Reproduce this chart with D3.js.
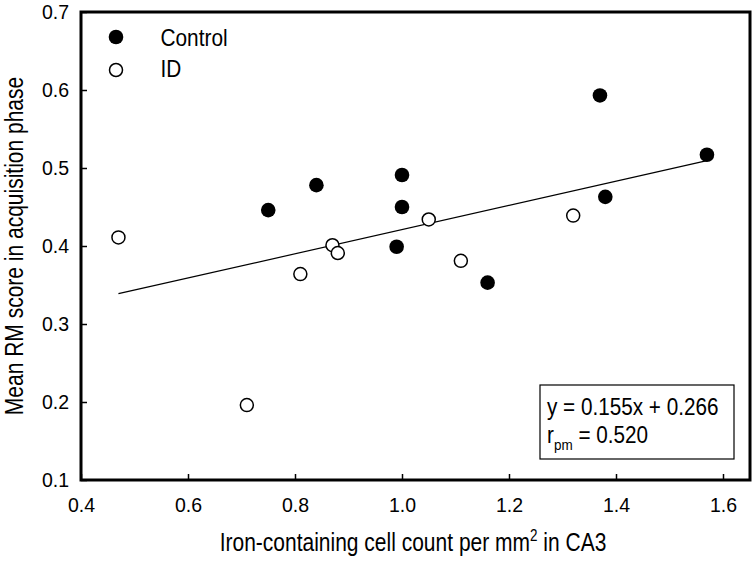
<!DOCTYPE html>
<html><head><meta charset="utf-8">
<script src="https://cdn.jsdelivr.net/npm/d3@7"></script>
<style>
html,body{margin:0;padding:0;background:#fff;}
text{font-family:"Liberation Sans",Arial,sans-serif;fill:#000;}
</style></head><body>
<svg id="c" width="756" height="564"></svg>
<script>
const controlX = [0.75, 0.84, 1.00, 1.00, 0.99, 1.16, 1.37, 1.38, 1.57];
const controlY = [0.446, 0.478, 0.491, 0.450, 0.399, 0.353, 0.593, 0.463, 0.517];
const idX = [0.47, 0.71, 0.81, 0.87, 0.88, 1.05, 1.11, 1.32];
const idY = [0.411, 0.196, 0.364, 0.401, 0.391, 0.434, 0.381, 0.439];
const xTicks = [0.4, 0.6, 0.8, 1.0, 1.2, 1.4, 1.6];
const yTicks = [0.1, 0.2, 0.3, 0.4, 0.5, 0.6, 0.7];
const slope = 0.155, intercept = 0.266;
const fitRange = [0.47, 1.57];

const svg = d3.select("#c");
const L = 81, R = 750, T = 12, B = 480;
const x = d3.scaleLinear().domain([0.4, 1.6]).range([L, 723]);
const y = d3.scaleLinear().domain([0.1, 0.7]).range([B, T]);

// ticks inward
const xAxis = d3.axisBottom(x).tickValues(xTicks).tickSize(-6).tickPadding(18).tickFormat(d3.format(".1f"));
const yAxis = d3.axisLeft(y).tickValues(yTicks).tickSize(-6).tickPadding(12).tickFormat(d3.format(".1f"));
const gx = svg.append("g").attr("transform", `translate(0,${B})`).call(xAxis);
const gy = svg.append("g").attr("transform", `translate(${L},0)`).call(yAxis);
[gx, gy].forEach(g => {
  g.select(".domain").remove();
  g.selectAll("line").attr("stroke", "#000").attr("stroke-width", 1.5);
  g.selectAll("text").attr("font-size", 19.5).attr("font-family", "'Liberation Sans',Arial,sans-serif");
});

// frame
svg.append("rect").attr("x", L).attr("y", T).attr("width", R - L).attr("height", B - T)
  .attr("fill", "none").attr("stroke", "#000").attr("stroke-width", 3);

// fit line
svg.append("line")
  .attr("x1", x(fitRange[0])).attr("y1", y(slope * fitRange[0] + intercept))
  .attr("x2", x(fitRange[1])).attr("y2", y(slope * fitRange[1] + intercept))
  .attr("stroke", "#000").attr("stroke-width", 1.2);

// points
svg.append("g").selectAll("circle").data(d3.range(controlX.length)).join("circle")
  .attr("cx", i => x(controlX[i])).attr("cy", i => y(controlY[i])).attr("r", 7.3)
  .attr("fill", "#000");
svg.append("g").selectAll("circle").data(d3.range(idX.length)).join("circle")
  .attr("cx", i => x(idX[i])).attr("cy", i => y(idY[i])).attr("r", 6.5)
  .attr("fill", "#fff").attr("stroke", "#000").attr("stroke-width", 1.5);

function ntext(px, py, size, sx, anchor, extra) {
  const t = svg.append("text")
    .attr("transform", `translate(${px},${py}) ${extra || ""} scale(${sx},1)`)
    .attr("font-size", size).attr("text-anchor", anchor || "start");
  return t;
}

// legend
svg.append("circle").attr("cx", 116).attr("cy", 37).attr("r", 7.3).attr("fill", "#000");
svg.append("circle").attr("cx", 116).attr("cy", 70).attr("r", 6.5).attr("fill", "#fff").attr("stroke", "#000").attr("stroke-width", 1.5);
ntext(160.5, 46, 24.5, 0.85).text("Control");
ntext(160.5, 77, 24.5, 0.85).text("ID");

// equation box
svg.append("rect").attr("x", 540).attr("y", 385).attr("width", 194).attr("height", 74)
  .attr("fill", "#fff").attr("stroke", "#000").attr("stroke-width", 1.2);
ntext(547, 415, 23, 0.9).text("y = 0.155x + 0.266");
const t2 = ntext(547, 443, 23, 0.9);
t2.append("tspan").text("r");
t2.append("tspan").attr("font-size", 15).attr("dy", 7).text("pm");
t2.append("tspan").attr("dy", -7).text(" = 0.520");

// axis titles
const xt = ntext(413, 551, 25, 0.84, "middle");
xt.append("tspan").text("Iron-containing cell count per mm");
xt.append("tspan").attr("font-size", 16).attr("dy", -10).text("2");
xt.append("tspan").attr("dy", 10).text(" in CA3");
ntext(23, 246, 25, 0.84, "middle", "rotate(-90)").text("Mean RM score in acquisition phase");
</script></body></html>
